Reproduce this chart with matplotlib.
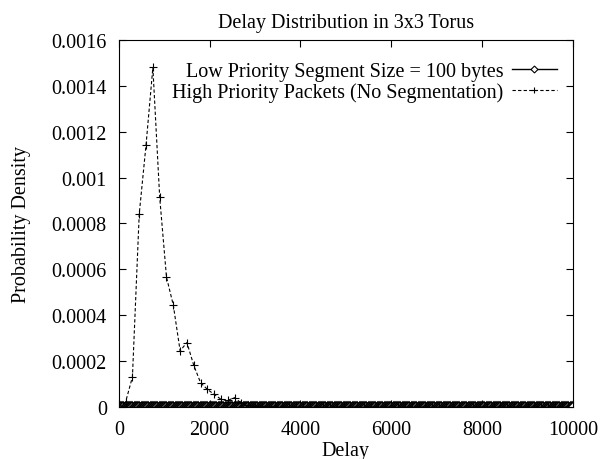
import matplotlib
matplotlib.use("Agg")
import matplotlib.pyplot as plt
from matplotlib.ticker import FuncFormatter

# high priority packets, bins of 150 delay units
high_delay = [
    0, 150, 300, 450, 600, 750, 900, 1050, 1200, 1350, 1500, 1650, 1800, 1950,
    2100, 2250, 2400, 2550, 2700, 2850, 3000, 3150, 3300, 3450, 3600, 3750,
    3900, 4050, 4200, 4350, 4500, 4650, 4800, 4950, 5100, 5250, 5400, 5550,
    5700, 5850, 6000, 6150, 6300, 6450, 6600, 6750, 6900, 7050, 7200, 7350,
    7500, 7650, 7800, 7950, 8100, 8250, 8400, 8550, 8700, 8850, 9000, 9150,
    9300, 9450, 9600, 9750, 9900,
]
high_prob = [
    0.0, 0.000022, 0.000131, 0.000842, 0.001143, 0.00148, 0.000915, 0.000566,
    0.000444, 0.000245, 0.000281, 0.000182, 0.000106, 0.000077, 0.000055,
    0.000034, 0.000029, 0.000041, 0.000016, 0.000008, 0.000005, 0.000003,
    0.000002, 0.000002, 0.000001, 0.000001, 0.000001, 0.000001, 0.0, 0.0,
    0.0, 0.0, 0.0, 0.0, 0.0, 0.0, 0.0, 0.0, 0.0, 0.0, 0.0, 0.0, 0.0, 0.0,
    0.0, 0.0, 0.0, 0.0, 0.0, 0.0, 0.0, 0.0, 0.0, 0.0, 0.0, 0.0, 0.0, 0.0,
    0.0, 0.0, 0.0, 0.0, 0.0, 0.0, 0.0, 0.0, 0.0,
]

# low priority segments (100 bytes), bins of 50 delay units, all near zero
low_delay = list(range(0, 10001, 50))
low_prob = [
    0.000001, 0.000001, 0.000001, 0.000001, 0.000001, 0.000001, 0.000001, 0.000001, 0.000001, 0.000001,
    0.000001, 0.000001, 0.000001, 0.000001, 0.000001, 0.000001, 0.000001, 0.000001, 0.000001, 0.000001,
    0.000001, 0.000001, 0.000001, 0.000001, 0.000001, 0.000001, 0.000001, 0.000001, 0.000001, 0.000001,
    0.000001, 0.000001, 0.000001, 0.000001, 0.000001, 0.000001, 0.000001, 0.000001, 0.000001, 0.000001,
    0.000001, 0.000001, 0.000001, 0.000001, 0.000001, 0.000001, 0.000001, 0.000001, 0.000001, 0.000001,
    0.000001, 0.000001, 0.000001, 0.000001, 0.000001, 0.000001, 0.000001, 0.000001, 0.000001, 0.000001,
    0.000001, 0.000001, 0.000001, 0.000001, 0.000001, 0.000001, 0.000001, 0.000001, 0.000001, 0.000001,
    0.000001, 0.000001, 0.000001, 0.000001, 0.000001, 0.000001, 0.000001, 0.000001, 0.000001, 0.000001,
    0.000001, 0.000001, 0.000001, 0.000001, 0.000001, 0.000001, 0.000001, 0.000001, 0.000001, 0.000001,
    0.000001, 0.000001, 0.000001, 0.000001, 0.000001, 0.000001, 0.000001, 0.000001, 0.000001, 0.000001,
    0.000001, 0.000001, 0.000001, 0.000001, 0.000001, 0.000001, 0.000001, 0.000001, 0.000001, 0.000001,
    0.000001, 0.000001, 0.000001, 0.000001, 0.000001, 0.000001, 0.000001, 0.000001, 0.000001, 0.000001,
    0.000001, 0.000001, 0.000001, 0.000001, 0.000001, 0.000001, 0.000001, 0.000001, 0.000001, 0.000001,
    0.000001, 0.000001, 0.000001, 0.000001, 0.000001, 0.000001, 0.000001, 0.000001, 0.000001, 0.000001,
    0.000001, 0.000001, 0.000001, 0.000001, 0.000001, 0.000001, 0.000001, 0.000001, 0.000001, 0.000001,
    0.000001, 0.000001, 0.000001, 0.000001, 0.000001, 0.000001, 0.000001, 0.000001, 0.000001, 0.000001,
    0.000001, 0.000001, 0.000001, 0.000001, 0.000001, 0.000001, 0.000001, 0.000001, 0.000001, 0.000001,
    0.000001, 0.000001, 0.000001, 0.000001, 0.000001, 0.000001, 0.000001, 0.000001, 0.000001, 0.000001,
    0.000001, 0.000001, 0.000001, 0.000001, 0.000001, 0.000001, 0.000001, 0.000001, 0.000001, 0.000001,
    0.000001, 0.000001, 0.000001, 0.000001, 0.000001, 0.000001, 0.000001, 0.000001, 0.000001, 0.000001,
    0.000001,
]

x_ticks = [0, 2000, 4000, 6000, 8000, 10000]
y_ticks = [0, 0.0002, 0.0004, 0.0006, 0.0008, 0.001, 0.0012, 0.0014, 0.0016]

plt.rcParams['font.family'] = ['Liberation Serif', 'DejaVu Serif']
plt.rcParams['font.size'] = 14.5

fig = plt.figure(figsize=(6, 4.6), dpi=100)
ax = fig.add_axes([0.198, 0.113, 0.757, 0.798])

ax.plot(low_delay, low_prob, color='black', lw=1.0, marker='D', ms=5,
        mfc='white', mec='black', mew=1.3,
        label='Low Priority Segment Size = 100 bytes')
ax.plot(high_delay, high_prob, color='black', lw=0.8, ls=(0, (3, 2)),
        marker='+', ms=6, mew=0.8,
        label='High Priority Packets (No Segmentation)')

ax.set_xlim(0, 10000)
ax.set_ylim(0, 0.0016)
ax.set_xticks(x_ticks)
ax.set_yticks(y_ticks)
ax.yaxis.set_major_formatter(FuncFormatter(lambda v, p: '%g' % v))
ax.tick_params(direction='in', length=5, top=True, right=True, width=0.8,
               labelsize=14.5)
ax.tick_params(axis='x', pad=9)
ax.tick_params(axis='y', pad=8.6)
for s in ax.spines.values():
    s.set_linewidth(0.8)

ax.set_title('Delay Distribution in 3x3 Torus', fontsize=14.5, pad=9.5)
ax.set_xlabel('Delay', labelpad=2)
ax.set_ylabel('Probability Density', labelpad=15)

leg = ax.legend(loc='upper right', frameon=False, markerfirst=False,
                numpoints=1, markerscale=0.7,
                handlelength=2.25, handletextpad=0.4, labelspacing=0.09,
                borderpad=0, borderaxespad=0, bbox_to_anchor=(0.965, 0.941))
for h in leg.legend_handles:
    h.set_markeredgewidth(0.8)

fig.savefig('out.png', dpi=100)
